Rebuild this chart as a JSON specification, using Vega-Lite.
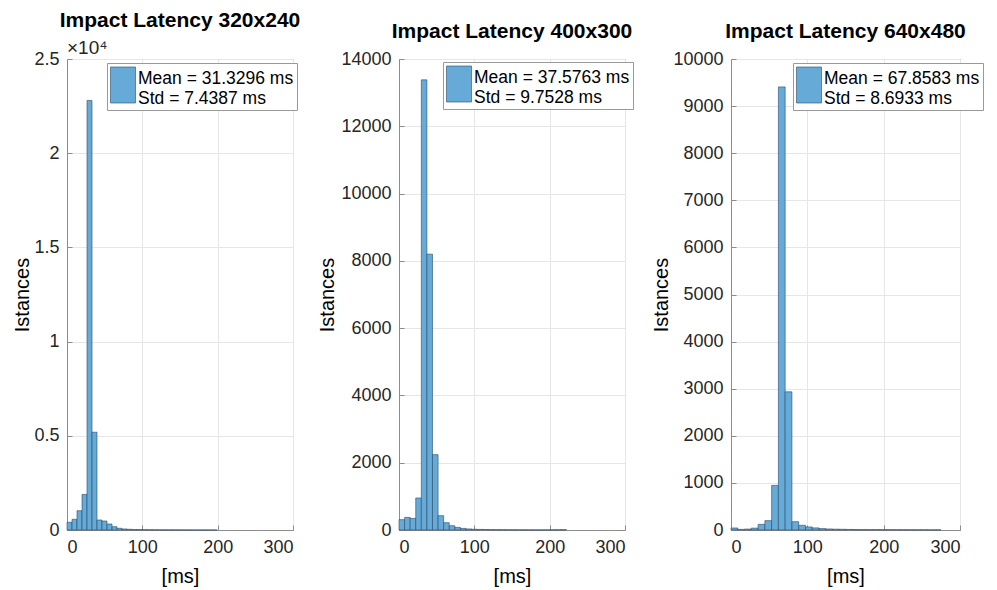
{
  "$schema": "https://vega.github.io/schema/vega-lite/v6.json",
  "background": "white",
  "padding": {"left": 12, "top": 9, "right": 5, "bottom": 5},
  "datasets": {
    "p1": [
      {"x0": 0, "x1": 6.64, "n": 408},
      {"x0": 6.64, "x1": 13.28, "n": 567},
      {"x0": 13.28, "x1": 19.92, "n": 1023},
      {"x0": 19.92, "x1": 26.56, "n": 1890},
      {"x0": 26.56, "x1": 33.2, "n": 22800},
      {"x0": 33.2, "x1": 39.84, "n": 5190},
      {"x0": 39.84, "x1": 46.48, "n": 530},
      {"x0": 46.48, "x1": 53.12, "n": 477},
      {"x0": 53.12, "x1": 59.76, "n": 318},
      {"x0": 59.76, "x1": 66.4, "n": 177},
      {"x0": 66.4, "x1": 73.04, "n": 90},
      {"x0": 73.04, "x1": 79.68, "n": 55},
      {"x0": 79.68, "x1": 86.32, "n": 38},
      {"x0": 86.32, "x1": 92.96, "n": 28},
      {"x0": 92.96, "x1": 99.6, "n": 22},
      {"x0": 99.6, "x1": 106.24, "n": 18},
      {"x0": 106.24, "x1": 112.88, "n": 14},
      {"x0": 112.88, "x1": 119.52, "n": 12},
      {"x0": 119.52, "x1": 126.16, "n": 10},
      {"x0": 126.16, "x1": 132.8, "n": 9},
      {"x0": 132.8, "x1": 139.44, "n": 8},
      {"x0": 139.44, "x1": 146.08, "n": 7},
      {"x0": 146.08, "x1": 152.72, "n": 6},
      {"x0": 152.72, "x1": 159.36, "n": 5},
      {"x0": 159.36, "x1": 166.0, "n": 4},
      {"x0": 166.0, "x1": 172.64, "n": 4},
      {"x0": 172.64, "x1": 179.28, "n": 3},
      {"x0": 179.28, "x1": 185.92, "n": 3},
      {"x0": 185.92, "x1": 192.56, "n": 2},
      {"x0": 192.56, "x1": 199.2, "n": 2}
    ],
    "p2": [
      {"x0": 0, "x1": 7.41, "n": 307},
      {"x0": 7.41, "x1": 14.82, "n": 375},
      {"x0": 14.82, "x1": 22.23, "n": 345},
      {"x0": 22.23, "x1": 29.64, "n": 952},
      {"x0": 29.64, "x1": 37.05, "n": 13380},
      {"x0": 37.05, "x1": 44.46, "n": 8200},
      {"x0": 44.46, "x1": 51.87, "n": 2240},
      {"x0": 51.87, "x1": 59.28, "n": 426},
      {"x0": 59.28, "x1": 66.69, "n": 217},
      {"x0": 66.69, "x1": 74.1, "n": 128},
      {"x0": 74.1, "x1": 81.51, "n": 78},
      {"x0": 81.51, "x1": 88.92, "n": 48},
      {"x0": 88.92, "x1": 96.33, "n": 32},
      {"x0": 96.33, "x1": 103.74, "n": 22},
      {"x0": 103.74, "x1": 111.15, "n": 18},
      {"x0": 111.15, "x1": 118.56, "n": 15},
      {"x0": 118.56, "x1": 125.97, "n": 12},
      {"x0": 125.97, "x1": 133.38, "n": 10},
      {"x0": 133.38, "x1": 140.79, "n": 9},
      {"x0": 140.79, "x1": 148.2, "n": 8},
      {"x0": 148.2, "x1": 155.61, "n": 7},
      {"x0": 155.61, "x1": 163.02, "n": 6},
      {"x0": 163.02, "x1": 170.43, "n": 5},
      {"x0": 170.43, "x1": 177.84, "n": 5},
      {"x0": 177.84, "x1": 185.25, "n": 4},
      {"x0": 185.25, "x1": 192.66, "n": 4},
      {"x0": 192.66, "x1": 200.07, "n": 5},
      {"x0": 200.07, "x1": 207.48, "n": 6},
      {"x0": 207.48, "x1": 214.89, "n": 8},
      {"x0": 214.89, "x1": 222.3, "n": 10}
    ],
    "p3": [
      {"x0": 0, "x1": 8.87, "n": 43},
      {"x0": 8.87, "x1": 17.74, "n": 13},
      {"x0": 17.74, "x1": 26.61, "n": 20},
      {"x0": 26.61, "x1": 35.48, "n": 40},
      {"x0": 35.48, "x1": 44.35, "n": 120},
      {"x0": 44.35, "x1": 53.22, "n": 199},
      {"x0": 53.22, "x1": 62.09, "n": 947},
      {"x0": 62.09, "x1": 70.96, "n": 9408},
      {"x0": 70.96, "x1": 79.83, "n": 2934},
      {"x0": 79.83, "x1": 88.7, "n": 177},
      {"x0": 88.7, "x1": 97.57, "n": 100},
      {"x0": 97.57, "x1": 106.44, "n": 65},
      {"x0": 106.44, "x1": 115.31, "n": 45},
      {"x0": 115.31, "x1": 124.18, "n": 30},
      {"x0": 124.18, "x1": 133.05, "n": 22},
      {"x0": 133.05, "x1": 141.92, "n": 18},
      {"x0": 141.92, "x1": 150.79, "n": 15},
      {"x0": 150.79, "x1": 159.66, "n": 12},
      {"x0": 159.66, "x1": 168.53, "n": 10},
      {"x0": 168.53, "x1": 177.4, "n": 9},
      {"x0": 177.4, "x1": 186.27, "n": 8},
      {"x0": 186.27, "x1": 195.14, "n": 8},
      {"x0": 195.14, "x1": 204.01, "n": 7},
      {"x0": 204.01, "x1": 212.88, "n": 7},
      {"x0": 212.88, "x1": 221.75, "n": 6},
      {"x0": 221.75, "x1": 230.62, "n": 6},
      {"x0": 230.62, "x1": 239.49, "n": 5},
      {"x0": 239.49, "x1": 248.36, "n": 5},
      {"x0": 248.36, "x1": 257.23, "n": 5},
      {"x0": 257.23, "x1": 266.1, "n": 4},
      {"x0": 266.1, "x1": 274.97, "n": 4}
    ],
    "exp": [{"x": 0, "y": 25000, "t": "×10⁴"}]
  },
  "hconcat": [
    {
      "width": 226,
      "height": 471,
      "title": "Impact Latency 320x240",
      "layer": [
        {
          "data": {"name": "p1"},
          "mark": {"type": "rect", "stroke": "#2a4a68", "strokeWidth": 0.6},
          "encoding": {
            "x": {"field": "x0", "type": "quantitative", "scale": {"domain": [0, 300], "nice": false}, "axis": {"values": [0, 100, 200, 300], "title": "[ms]", "titlePadding": 10}},
            "x2": {"field": "x1"},
            "y": {"field": "n", "type": "quantitative", "scale": {"domain": [0, 25000], "nice": false}, "axis": {"values": [0, 5000, 10000, 15000, 20000, 25000], "labelExpr": "datum.value / 10000", "title": "Istances", "titlePadding": 1}},
            "y2": {"datum": 0},
            "color": {"datum": "Mean = 31.3296 ms|Std = 7.4387 ms", "scale": {"range": ["#66AAD7"]},
              "legend": {"orient": "none", "legendX": 40, "legendY": 4, "title": null, "labelExpr": "split(datum.label, '|')", "symbolType": "M-1,-0.96L1,-0.96L1,1.92L-1,1.92Z", "symbolSize": 625, "symbolStrokeColor": "#2a4a68", "symbolStrokeWidth": 0.6, "labelFont": "Liberation Sans", "labelFontSize": 17.5, "labelColor": "black", "labelLimit": 400, "labelOffset": 2, "fillColor": "white", "strokeColor": "#999999", "padding": 3}}
          }
        },
        {
          "data": {"name": "exp"},
          "mark": {"type": "text", "align": "left", "baseline": "bottom", "dy": -1, "fontSize": 19, "font": "Liberation Sans", "color": "#262626"},
          "encoding": {
            "x": {"field": "x", "type": "quantitative"},
            "y": {"field": "y", "type": "quantitative"},
            "text": {"field": "t"}
          }
        }
      ]
    },
    {
      "width": 226,
      "height": 471,
      "title": "Impact Latency 400x300",
      "data": {"name": "p2"},
      "mark": {"type": "rect", "stroke": "#2a4a68", "strokeWidth": 0.6},
      "encoding": {
        "x": {"field": "x0", "type": "quantitative", "scale": {"domain": [0, 300], "nice": false}, "axis": {"values": [0, 100, 200, 300], "title": "[ms]", "titlePadding": 10}},
        "x2": {"field": "x1"},
        "y": {"field": "n", "type": "quantitative", "scale": {"domain": [0, 14000], "nice": false}, "axis": {"values": [0, 2000, 4000, 6000, 8000, 10000, 12000, 14000], "format": "d", "title": "Istances", "titlePadding": 3}},
        "y2": {"datum": 0},
        "color": {"datum": "Mean = 37.5763 ms|Std = 9.7528 ms", "scale": {"range": ["#66AAD7"]},
          "legend": {"orient": "none", "legendX": 44, "legendY": 3, "title": null, "labelExpr": "split(datum.label, '|')", "symbolType": "M-1,-0.96L1,-0.96L1,1.92L-1,1.92Z", "symbolSize": 625, "symbolStrokeColor": "#2a4a68", "symbolStrokeWidth": 0.6, "labelFont": "Liberation Sans", "labelFontSize": 17.5, "labelColor": "black", "labelLimit": 400, "labelOffset": 2, "fillColor": "white", "strokeColor": "#999999", "padding": 3}}
      }
    },
    {
      "width": 229,
      "height": 471,
      "title": "Impact Latency 640x480",
      "data": {"name": "p3"},
      "mark": {"type": "rect", "stroke": "#2a4a68", "strokeWidth": 0.6},
      "encoding": {
        "x": {"field": "x0", "type": "quantitative", "scale": {"domain": [0, 300], "nice": false}, "axis": {"values": [0, 100, 200, 300], "title": "[ms]", "titlePadding": 10}},
        "x2": {"field": "x1"},
        "y": {"field": "n", "type": "quantitative", "scale": {"domain": [0, 10000], "nice": false}, "axis": {"values": [0, 1000, 2000, 3000, 4000, 5000, 6000, 7000, 8000, 9000, 10000], "format": "d", "title": "Istances", "titlePadding": 1}},
        "y2": {"datum": 0},
        "color": {"datum": "Mean = 67.8583 ms|Std = 8.6933 ms", "scale": {"range": ["#66AAD7"]},
          "legend": {"orient": "none", "legendX": 62, "legendY": 4, "title": null, "labelExpr": "split(datum.label, '|')", "symbolType": "M-1,-0.96L1,-0.96L1,1.92L-1,1.92Z", "symbolSize": 625, "symbolStrokeColor": "#2a4a68", "symbolStrokeWidth": 0.6, "labelFont": "Liberation Sans", "labelFontSize": 17.5, "labelColor": "black", "labelLimit": 400, "labelOffset": 2, "fillColor": "white", "strokeColor": "#999999", "padding": 3}}
      }
    }
  ],
  "spacing": 106,
  "bounds": "flush",
  "resolve": {
    "scale": {"color": "independent", "x": "independent", "y": "independent"},
    "legend": {"color": "independent"}
  },
  "config": {
    "view": {"stroke": "#8c8c8c", "strokeWidth": 1},
    "title": {"font": "Liberation Sans", "fontSize": 21, "fontWeight": "bold", "color": "black", "anchor": "middle", "offset": 8},
    "axis": {
      "labelFont": "Liberation Sans",
      "labelFontSize": 18,
      "labelColor": "#262626",
      "titleFont": "Liberation Sans",
      "titleFontSize": 20,
      "titleFontWeight": "normal",
      "titleColor": "black",
      "domainColor": "#8c8c8c",
      "gridColor": "#e6e6e6",
      "tickColor": "#8c8c8c",
      "tickSize": -5,
      "labelPadding": 13,
      "titlePadding": 4
    }
  }
}
